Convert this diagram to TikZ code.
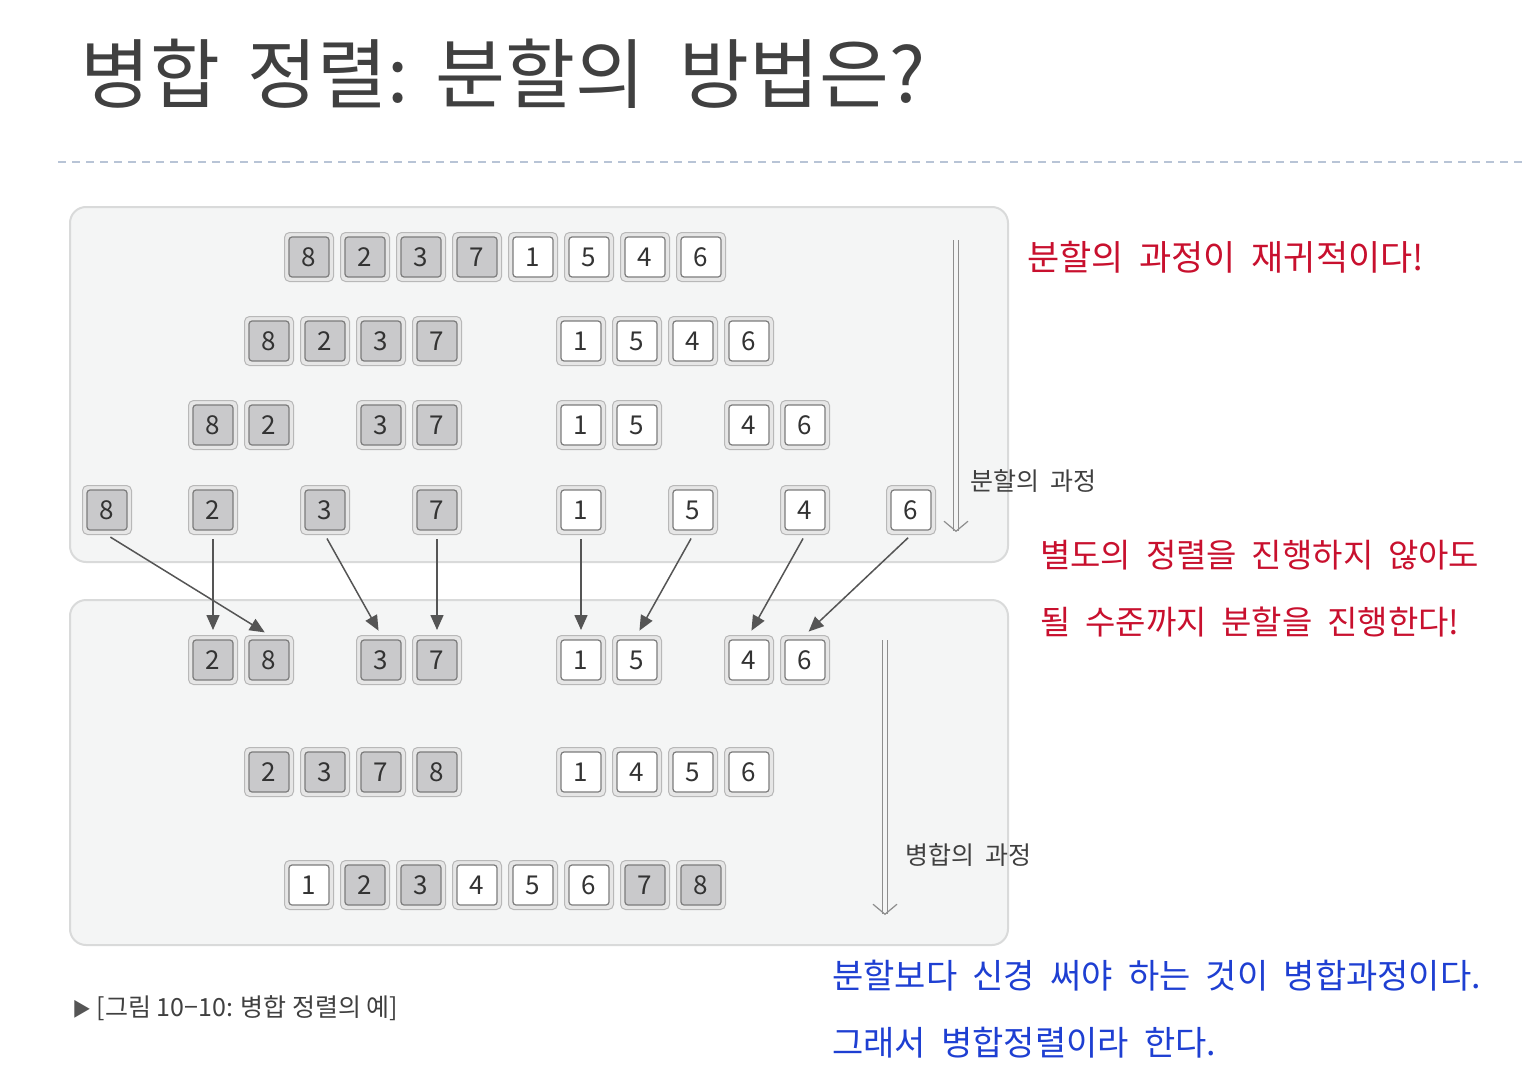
\documentclass[tikz,border=0pt]{standalone}
\usepackage{fontspec}
\setmainfont{Noto Sans CJK KR}
\newfontfamily\penfont[WordSpace=2]{Noto Sans CJK KR}
\usetikzlibrary{arrows.meta}
\definecolor{panelfill}{HTML}{F4F5F5}
\definecolor{panelrim}{HTML}{D9DADA}
\definecolor{cellouter}{HTML}{E6E6E6}
\definecolor{cellrim}{HTML}{B8B8B8}
\definecolor{cellline}{HTML}{7C7C7C}
\definecolor{cellgray}{HTML}{C9C9CB}
\definecolor{digit}{HTML}{333333}
\definecolor{arrowgray}{HTML}{555555}
\definecolor{flowgray}{HTML}{8E8E8E}
\definecolor{titlegray}{HTML}{404040}
\definecolor{rulegray}{HTML}{B8C4D6}
\definecolor{penred}{HTML}{C8102E}
\definecolor{penblue}{HTML}{1E3FD2}
\begin{document}
\begin{tikzpicture}[x=1pt,y=-1pt,
    cell/.style={rectangle,rounded corners=5pt,draw=cellrim,fill=cellouter,line width=1pt,
      minimum width=49pt,minimum height=49pt,inner sep=0pt,text=digit,
      font=\fontsize{26}{26}\selectfont,
      path picture={\draw[rounded corners=3pt,draw=cellline,line width=1.2pt,fill=#1]
        ([shift={(4.5pt,4.5pt)}]path picture bounding box.south west) rectangle
        ([shift={(-4.5pt,-4.5pt)}]path picture bounding box.north east);}},
    gcell/.style={cell=cellgray},
    wcell/.style={cell=white},
    merge/.style={draw=arrowgray,line width=1.5pt,-{Triangle[length=15pt,width=13pt]},
      shorten <=4pt,shorten >=5pt},
    flow/.style={draw=flowgray,line width=1.2pt,double=panelfill,double distance=3.5pt,
      -{Straight Barb[length=10pt,width=24pt,line width=1.2pt]}},
    panel/.style={fill=panelfill,draw=panelrim,line width=2pt,rounded corners=16pt},
    note/.style={anchor=west,inner sep=0pt,font=\fontsize{25}{25}\selectfont,text=titlegray},
    pen/.style={anchor=west,inner sep=0pt,font=\penfont\fontsize{33}{33}\selectfont}]
  \useasboundingbox (0,0) rectangle (1526,1092);

  % title and rule
  \node[anchor=west,inner sep=0pt,text=titlegray,font=\fontsize{76}{76}\selectfont] (title) at (80,74)
    {병합\hspace{0.36em}정렬:\hspace{0.36em}분할의\hspace{0.45em}방법은?};
  \draw[rulegray,line width=1.5pt,dash pattern=on 8pt off 6pt] (58,162) -- (1526,162);

  % panels
  \path[panel] (70,207) rectangle (1008,562);
  \path[panel] (70,600) rectangle (1008,945);

  % splitting
  \node[gcell] (a1) at (309,257) {8};
  \node[gcell] (a2) at (365,257) {2};
  \node[gcell] (a3) at (421,257) {3};
  \node[gcell] (a4) at (477,257) {7};
  \node[wcell] (a5) at (533,257) {1};
  \node[wcell] (a6) at (589,257) {5};
  \node[wcell] (a7) at (645,257) {4};
  \node[wcell] (a8) at (701,257) {6};

  \node[gcell] (b1) at (269,341) {8};
  \node[gcell] (b2) at (325,341) {2};
  \node[gcell] (b3) at (381,341) {3};
  \node[gcell] (b4) at (437,341) {7};
  \node[wcell] (b5) at (581,341) {1};
  \node[wcell] (b6) at (637,341) {5};
  \node[wcell] (b7) at (693,341) {4};
  \node[wcell] (b8) at (749,341) {6};

  \node[gcell] (c1) at (213,425) {8};
  \node[gcell] (c2) at (269,425) {2};
  \node[gcell] (c3) at (381,425) {3};
  \node[gcell] (c4) at (437,425) {7};
  \node[wcell] (c5) at (581,425) {1};
  \node[wcell] (c6) at (637,425) {5};
  \node[wcell] (c7) at (749,425) {4};
  \node[wcell] (c8) at (805,425) {6};

  \node[gcell] (d1) at (107,510) {8};
  \node[gcell] (d2) at (213,510) {2};
  \node[gcell] (d3) at (325,510) {3};
  \node[gcell] (d4) at (437,510) {7};
  \node[wcell] (d5) at (581,510) {1};
  \node[wcell] (d6) at (693,510) {5};
  \node[wcell] (d7) at (805,510) {4};
  \node[wcell] (d8) at (911,510) {6};

  % merging
  \node[gcell] (e1) at (213,660) {2};
  \node[gcell] (e2) at (269,660) {8};
  \node[gcell] (e3) at (381,660) {3};
  \node[gcell] (e4) at (437,660) {7};
  \node[wcell] (e5) at (581,660) {1};
  \node[wcell] (e6) at (637,660) {5};
  \node[wcell] (e7) at (749,660) {4};
  \node[wcell] (e8) at (805,660) {6};

  \node[gcell] (f1) at (269,772) {2};
  \node[gcell] (f2) at (325,772) {3};
  \node[gcell] (f3) at (381,772) {7};
  \node[gcell] (f4) at (437,772) {8};
  \node[wcell] (f5) at (581,772) {1};
  \node[wcell] (f6) at (637,772) {4};
  \node[wcell] (f7) at (693,772) {5};
  \node[wcell] (f8) at (749,772) {6};

  \node[wcell] (g1) at (309,885) {1};
  \node[gcell] (g2) at (365,885) {2};
  \node[gcell] (g3) at (421,885) {3};
  \node[wcell] (g4) at (477,885) {4};
  \node[wcell] (g5) at (533,885) {5};
  \node[wcell] (g6) at (589,885) {6};
  \node[gcell] (g7) at (645,885) {7};
  \node[gcell] (g8) at (701,885) {8};

  \draw[merge] (d1.south) -- (e2.north);
  \draw[merge] (d2.south) -- (e1.north);
  \draw[merge] (d3.south) -- (e3.north);
  \draw[merge] (d4.south) -- (e4.north);
  \draw[merge] (d5.south) -- (e5.north);
  \draw[merge] (d6.south) -- (e6.north);
  \draw[merge] (d7.south) -- (e7.north);
  \draw[merge] (d8.south) -- (e8.north);

  % process arrows
  \coordinate (splittop) at (956,240);
  \coordinate (splitend) at (956,532);
  \coordinate (mergetop) at (885,640);
  \coordinate (mergeend) at (885,915);
  \draw[flow] (splittop) -- (splitend);
  \draw[flow] (mergetop) -- (mergeend);
  \node[note] (splitlabel) at (970,481) {분할의\hspace{0.45em}과정};
  \node[note] (mergelabel) at (905,855) {병합의\hspace{0.45em}과정};

  % caption
  \node[note] (caption) at (72,1008)
    {{\color{arrowgray}\fontsize{19}{19}\selectfont ▶} [그림 10−10: 병합 정렬의 예]};

  % hand notes
  \node[pen,text=penred,font=\penfont\fontsize{35}{35}\selectfont] (recnote) at (1027,257) {분할의 과정이 재귀적이다!};
  \node[pen,text=penred] (splitnote) at (1040,555) {별도의 정렬을 진행하지 않아도};
  \node[pen,text=penred] (splitnote2) at (1040,622) {될 수준까지 분할을 진행한다!};
  \node[pen,text=penblue,font=\penfont\fontsize{34}{34}\selectfont] (mergenote) at (832,976) {분할보다 신경 써야 하는 것이 병합과정이다.};
  \node[pen,text=penblue,font=\penfont\fontsize{34}{34}\selectfont] (mergenote2) at (832,1043) {그래서 병합정렬이라 한다.};
\end{tikzpicture}
\end{document}
